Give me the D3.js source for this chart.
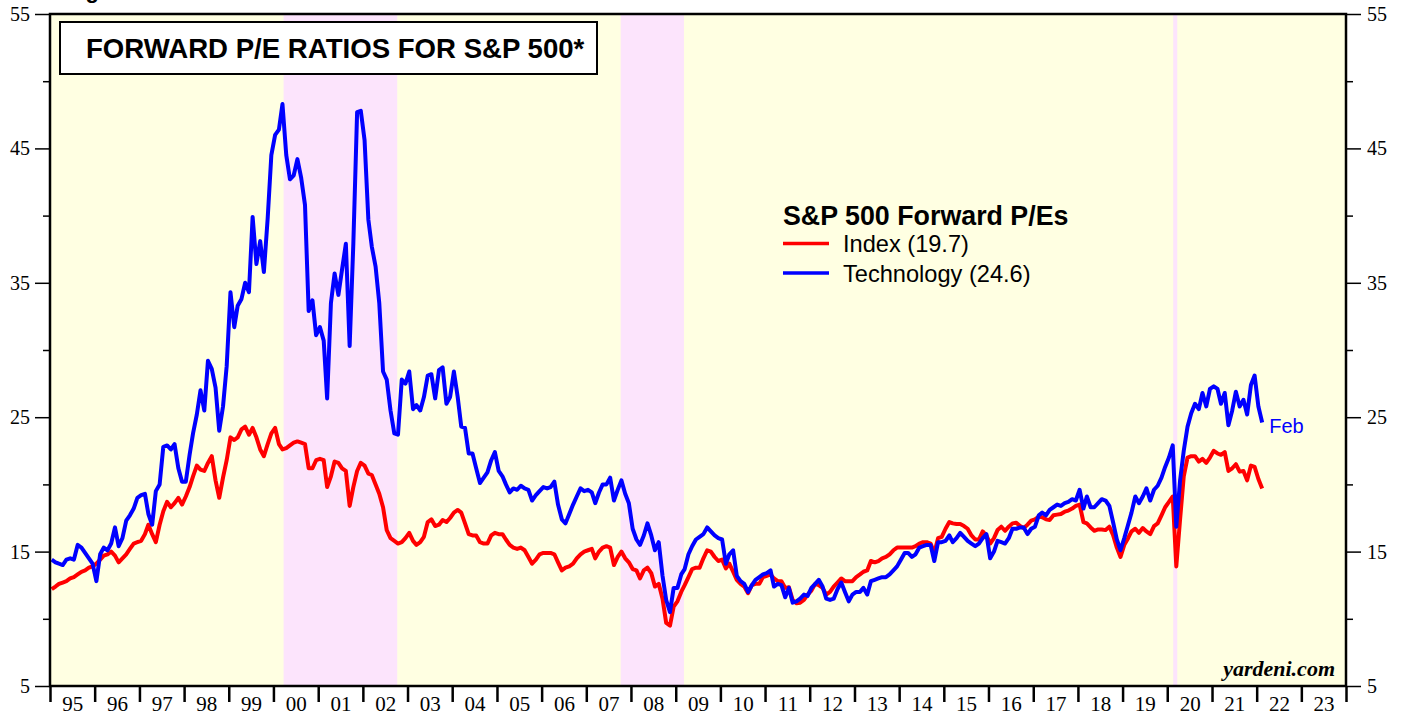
<!DOCTYPE html>
<head>
  <meta charset="utf-8">
  <script src="https://d3js.org/d3.v7.min.js"></script>
  <style>
    body { margin: 0; background: #fff; }
    svg { display: block; }
    .axis text { font-family: "Liberation Serif", "Times New Roman", serif; fill: #000; }
    .axis path { display: none; }
    .axis line { stroke: #000; }
  </style>
</head>
<body>
<script>

// monthly forward P/E, Jan 1995 .. Feb 2022 (one row per year)
const indexPE = [
  12.2, 12.4, 12.6, 12.7, 12.8, 13.0, 13.1, 13.3, 13.5, 13.6, 13.8, 13.9,
  14.1, 14.4, 14.7, 14.8, 15.0, 14.7, 14.2, 14.5, 14.8, 15.2, 15.6, 15.7,
  15.8, 16.3, 17.0, 16.3, 15.7, 17.0, 18.0, 18.7, 18.3, 18.6, 19.0, 18.5,
  19.1, 19.8, 20.6, 21.4, 21.1, 21.0, 21.6, 22.1, 20.3, 19.0, 20.5, 21.8,
  23.5, 23.3, 23.5, 24.1, 24.3, 23.7, 24.2, 23.5, 22.6, 22.1, 23.0, 23.8,
  24.2, 23.0, 22.6, 22.7, 22.9, 23.1, 23.2, 23.1, 23.0, 21.2, 21.2, 21.8,
  21.9, 21.8, 19.8, 20.6, 21.7, 21.6, 21.2, 21.0, 18.4, 19.8, 21.0, 21.6,
  21.4, 20.8, 20.7, 20.0, 19.3, 18.3, 16.6, 16.0, 15.8, 15.6, 15.7, 16.0,
  16.4, 15.8, 15.5, 15.7, 16.1, 17.2, 17.4, 16.9, 17.0, 17.35, 17.2, 17.5,
  17.9, 18.1, 17.9, 17.1, 16.3, 16.2, 16.2, 15.7, 15.6, 15.6, 16.2, 16.4,
  16.3, 16.3, 15.9, 15.5, 15.3, 15.2, 15.3, 15.1, 14.6, 14.1, 14.4, 14.8,
  14.9, 14.9, 14.9, 14.8, 14.2, 13.6, 13.8, 13.9, 14.1, 14.5, 14.8, 15.0,
  15.1, 15.2, 14.5, 15.0, 15.3, 15.4, 15.3, 14.0, 14.6, 15.0, 14.5, 14.2,
  13.7, 13.6, 13.0, 13.6, 13.8, 13.4, 12.4, 12.6, 11.5, 9.7, 9.5, 10.9,
  11.3, 12.0, 12.5, 13.1, 13.7, 13.8, 13.8, 14.5, 15.1, 15.0, 14.6, 14.3,
  14.4, 13.75, 14.1, 13.5, 12.9, 12.6, 12.4, 11.9, 12.5, 12.6, 12.6, 13.1,
  13.2, 13.3, 13.0, 12.8, 12.8, 12.3, 12.35, 11.4, 11.15, 11.2, 11.4, 11.8,
  12.1, 12.6, 12.5, 12.3, 11.8, 12.0, 12.4, 12.7, 13.0, 12.8, 12.8, 12.8,
  13.1, 13.3, 13.5, 13.6, 14.3, 14.2, 14.3, 14.5, 14.6, 14.8, 15.1, 15.3,
  15.3, 15.3, 15.3, 15.3, 15.4, 15.6, 15.7, 15.7, 15.6, 14.9, 16.0, 16.1,
  16.7, 17.2, 17.1, 17.05, 17.05, 16.9, 16.7, 16.2, 15.9, 15.9, 16.5, 16.2,
  15.6, 16.0, 16.6, 16.85, 16.55, 16.85, 17.1, 17.15, 16.9, 16.75, 17.0, 17.3,
  17.4, 17.6, 17.55, 17.4, 17.35, 17.7, 17.75, 17.8, 17.97, 18.05, 18.2, 18.4,
  18.5, 17.2, 17.1, 16.8, 16.55, 16.65, 16.65, 16.6, 16.85, 16.24, 15.3, 14.6,
  15.5, 16.0, 16.5, 16.7, 16.4, 16.75, 16.5, 16.3, 16.9, 17.1, 17.7, 18.3,
  18.7, 19.1, 13.9, 17.4, 20.6, 22.0, 22.1, 22.1, 21.7, 21.9, 21.6, 22.0,
  22.5, 22.3, 22.2, 22.4, 21.0, 21.2, 21.5, 20.95, 21.0, 20.3, 21.4, 21.3,
  20.4, 19.7
];
const techPE = [
  14.4, 14.2, 14.1, 14.0, 14.4, 14.5, 14.4, 15.5, 15.3, 14.9, 14.5, 14.1,
  12.8, 14.8, 15.3, 15.1, 15.6, 16.8, 15.4, 16.0, 17.3, 17.7, 18.2, 19.0,
  19.2, 19.3, 17.8, 17.0, 19.5, 20.0, 22.8, 22.9, 22.6, 23.0, 21.2, 20.2,
  20.2, 22.2, 23.8, 25.2, 27.0, 25.5, 29.2, 28.6, 27.2, 24.0, 25.8, 28.8,
  34.3, 31.7, 33.3, 33.8, 35.0, 34.3, 39.9, 36.4, 38.1, 35.8, 39.8, 44.5,
  46.0, 46.4, 48.3, 44.5, 42.7, 43.0, 44.2, 42.8, 40.8, 32.9, 33.7, 31.1,
  31.7, 30.7, 26.4, 33.5, 35.7, 34.1, 36.0, 37.9, 30.3, 37.9, 47.7, 47.8,
  45.6, 39.7, 37.7, 36.2, 33.5, 28.4, 27.8, 25.5, 23.8, 23.7, 27.8, 27.5,
  28.4, 25.6, 25.9, 25.5, 26.5, 28.1, 28.2, 26.4, 28.5, 28.7, 26.0, 26.5,
  28.4, 26.5, 24.3, 24.2, 22.3, 22.3, 21.2, 20.1, 20.5, 20.9, 21.8, 22.4,
  21.0, 20.6, 20.0, 19.4, 19.7, 19.6, 19.9, 19.7, 19.6, 18.8, 19.2, 19.5,
  19.8, 19.7, 19.8, 20.2, 18.5, 17.4, 17.1, 17.8, 18.5, 19.1, 19.7, 19.5,
  19.6, 19.4, 18.6, 19.4, 20.0, 20.0, 20.5, 18.8, 19.6, 20.3, 19.3, 18.6,
  16.7, 15.9, 15.5, 16.2, 17.1, 16.2, 15.1, 15.7, 13.2, 11.4, 10.5, 12.3,
  12.3, 13.3, 13.7, 14.8, 15.4, 15.9, 16.1, 16.3, 16.8, 16.5, 16.2, 16.0,
  15.9, 14.1, 14.8, 15.1, 13.2, 12.8, 12.6, 12.0, 12.5, 12.9, 13.1, 13.3,
  13.4, 13.6, 12.4, 12.6, 12.5, 11.6, 12.3, 11.2, 11.3, 11.5, 11.8, 11.7,
  12.3, 12.6, 12.9, 12.4, 11.5, 11.4, 11.5, 12.2, 12.7, 12.0, 11.3, 11.8,
  12.0, 12.0, 12.3, 11.8, 12.8, 12.9, 13.0, 13.1, 13.1, 13.3, 13.6, 13.9,
  14.4, 14.9, 14.9, 14.6, 14.8, 15.3, 15.4, 15.5, 15.5, 14.3, 15.7, 15.7,
  15.8, 16.2, 15.7, 16.0, 16.4, 16.1, 15.8, 15.6, 15.4, 15.6, 16.0, 16.3,
  14.5, 15.0, 15.8, 15.7, 15.6, 16.0, 16.7, 16.7, 16.8, 16.8, 16.3, 16.7,
  16.85, 17.7, 17.9, 17.7, 18.1, 18.3, 18.5, 18.4, 18.6, 18.7, 18.9, 18.8,
  19.6, 18.2, 19.1, 18.3, 18.3, 18.6, 18.9, 18.8, 18.4, 17.2, 15.9, 15.1,
  16.0, 17.0, 17.9, 19.1, 18.6, 19.1, 19.7, 18.8, 19.6, 19.9, 20.5, 21.3,
  22.0, 22.9, 16.85, 20.3, 22.5, 24.3, 25.3, 26.0, 25.6, 26.8, 25.8, 27.1,
  27.3, 27.1, 26.0, 26.8, 24.4, 25.5, 26.9, 25.8, 26.3, 25.2, 27.4, 28.1,
  25.8, 24.6
];

// S&P 500 bear markets (shaded)
const bearMarkets = [
  ["2000-03-24", "2002-10-09"],
  ["2007-10-09", "2009-03-09"],
  ["2020-02-19", "2020-03-23"]
];
const yMajorTicks = [5, 15, 25, 35, 45, 55];
const yMinorTicks = [10, 20, 30, 40, 50];
const firstYear = 1995, lastYear = 2024;

const W = 1405, H = 717;
const margin = {top: 14, right: 59, bottom: 31, left: 50};
const width = W - margin.left - margin.right,
      height = H - margin.top - margin.bottom;

const svg = d3.select("body").append("svg")
    .attr("width", W).attr("height", H);

// page heading, mostly above the visible area
svg.append("text")
    .attr("x", 66).attr("y", -2)
    .style("font-family", "Liberation Sans, Arial, sans-serif")
    .style("font-weight", "bold").style("font-size", "22px")
    .text("Figure");

const g = svg.append("g")
    .attr("transform", "translate(" + margin.left + "," + margin.top + ")");

const x = d3.scaleTime()
    .domain([new Date(firstYear, 0, 1), new Date(lastYear, 0, 1)])
    .range([0, width]);
const y = d3.scaleLinear().domain([5, 55]).range([height, 0]);

const monthDate = i => new Date(firstYear, i, 15);

g.append("rect")
    .attr("width", width).attr("height", height)
    .attr("fill", "#ffffe2");

const parse = d3.timeParse("%Y-%m-%d");
g.selectAll(".bear")
    .data(bearMarkets)
    .enter().append("rect")
    .attr("class", "bear")
    .attr("x", d => x(parse(d[0])))
    .attr("width", d => x(parse(d[1])) - x(parse(d[0])))
    .attr("y", 0).attr("height", height)
    .attr("fill", "#fce4fc");

// axes
const yFont = "20px";
g.append("g").attr("class", "axis")
    .call(d3.axisLeft(y).tickValues(yMajorTicks).tickSize(15).tickPadding(5))
    .call(s => s.selectAll("line").attr("stroke-width", 1.5))
    .call(s => s.selectAll("text").style("font-size", yFont));
g.append("g").attr("class", "axis")
    .call(d3.axisLeft(y).tickValues(yMinorTicks).tickSize(7).tickFormat(""))
    .call(s => s.selectAll("line").attr("stroke-width", 1.5));
g.append("g").attr("class", "axis")
    .attr("transform", "translate(" + width + ",0)")
    .call(d3.axisRight(y).tickValues(yMajorTicks).tickSize(15).tickPadding(6))
    .call(s => s.selectAll("line").attr("stroke-width", 1.5))
    .call(s => s.selectAll("text").style("font-size", yFont));
g.append("g").attr("class", "axis")
    .attr("transform", "translate(" + width + ",0)")
    .call(d3.axisRight(y).tickValues(yMinorTicks).tickSize(7).tickFormat(""))
    .call(s => s.selectAll("line").attr("stroke-width", 1.5));

const yearStarts = d3.range(firstYear, lastYear + 1).map(yr => new Date(yr, 0, 1));
const yearMids = d3.range(firstYear, lastYear).map(yr => new Date(yr, 6, 2));
g.append("g").attr("class", "axis")
    .attr("transform", "translate(0," + height + ")")
    .call(d3.axisBottom(x).tickValues(yearStarts).tickSize(16).tickFormat(""))
    .call(s => s.selectAll("line").attr("stroke-width", 2.5));
g.append("g").attr("class", "axis")
    .attr("transform", "translate(0," + height + ")")
    .call(d3.axisBottom(x).tickValues(yearMids).tickSize(0).tickPadding(10)
        .tickFormat(d3.timeFormat("%y")))
    .call(s => s.selectAll("text").style("font-size", "21px"));

// series
const line = d3.line()
    .x((d, i) => x(monthDate(i)))
    .y(d => y(d));

g.append("path").datum(indexPE)
    .attr("fill", "none").attr("stroke", "#ff0000")
    .attr("stroke-width", 4).attr("stroke-linejoin", "round")
    .attr("d", line);
g.append("path").datum(techPE)
    .attr("fill", "none").attr("stroke", "#0000ff")
    .attr("stroke-width", 4).attr("stroke-linejoin", "round")
    .attr("d", line);

// frame
g.append("rect")
    .attr("width", width).attr("height", height)
    .attr("fill", "none").attr("stroke", "#000").attr("stroke-width", 2.5);

const sans = "Liberation Sans, Arial, sans-serif";

// title box
g.append("rect")
    .attr("x", 10).attr("y", 8).attr("width", 537).attr("height", 52)
    .attr("fill", "#fff").attr("stroke", "#000").attr("stroke-width", 2);
g.append("text")
    .attr("x", 36).attr("y", 44)
    .style("font-family", sans).style("font-weight", "bold").style("font-size", "27.6px")
    .text("FORWARD P/E RATIOS FOR S&P 500*");

// legend
const legend = g.append("g").attr("transform", "translate(733,0)");
legend.append("text")
    .attr("x", 0).attr("y", 211)
    .style("font-family", sans).style("font-weight", "bold").style("font-size", "26.8px")
    .text("S&P 500 Forward P/Es");
const legendItems = [
  {label: "Index (" + indexPE[indexPE.length - 1] + ")", color: "#ff0000"},
  {label: "Technology (" + techPE[techPE.length - 1] + ")", color: "#0000ff"}
];
legendItems.forEach((it, i) => {
  const yy = 229.5 + i * 29.5;
  legend.append("line")
      .attr("x1", 0).attr("x2", 46).attr("y1", yy).attr("y2", yy)
      .attr("stroke", it.color).attr("stroke-width", 3.5);
  legend.append("text")
      .attr("x", 60).attr("y", yy + 8.5)
      .style("font-family", sans).style("font-size", "23.6px")
      .text(it.label);
});

// last point label
g.append("text")
    .attr("x", x(monthDate(techPE.length - 1)) + 7)
    .attr("y", y(techPE[techPE.length - 1]) + 10)
    .style("font-family", sans).style("font-size", "20px").attr("fill", "#0000ff")
    .text("Feb");

g.append("text")
    .attr("x", width - 11).attr("y", height - 10)
    .attr("text-anchor", "end")
    .style("font-family", "Liberation Serif, Times New Roman, serif")
    .style("font-weight", "bold").style("font-style", "italic").style("font-size", "22px")
    .text("yardeni.com");

</script>
</body>
